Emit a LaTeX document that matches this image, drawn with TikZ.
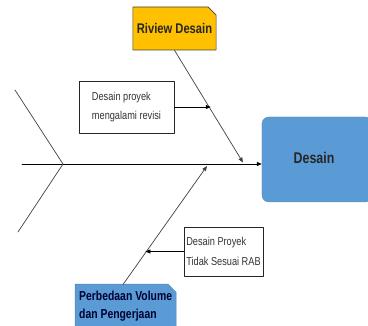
\documentclass[tikz,border=0pt]{standalone}
\usepackage{fontspec}
\setmainfont{Liberation Sans}[FakeStretch=0.8]
\usetikzlibrary{arrows.meta,shapes.misc,calc}
\definecolor{kuning}{HTML}{FFC000}
\definecolor{biru}{HTML}{5B9BD5}
\definecolor{garis}{HTML}{404040}

\begin{document}
\begin{tikzpicture}[x=1pt, y=-1pt, line cap=round, line join=round, >={Triangle[length=5pt,width=4pt]},
  kotak/.style={draw=black!85, fill=white, line width=0.6pt, align=left, inner sep=0pt,
    text=black!80, font=\fontsize{11.5}{19.5}\selectfont},
  sebab/.style={chamfered rectangle, chamfered rectangle corners=north east,
    chamfered rectangle xsep=4pt, chamfered rectangle ysep=4pt, inner sep=0pt, align=left,
    font=\bfseries\fontsize{13}{18}\selectfont},
  tulang/.style={draw=garis, line width=0.7pt}]
  \clip (0,0) rectangle (368,326);
  % kepala ikan
  \node[fill=biru, draw=biru!85!black, line width=0.4pt, rounded corners=7pt,
    minimum width=110pt, minimum height=85pt] (desain) at (317,159.5) {};
  \node[font=\bfseries\fontsize{15.5}{18}\selectfont, text=black!85] (jdl) at (314,158) {Desain};
  % tulang belakang
  \coordinate (ekor) at (63,164);
  \coordinate (awal) at (22,164);
  \draw[line width=0.9pt, ->] (awal) -- (ekor -| desain.west);
  \draw[tulang] (15,90) -- (ekor) -- (18,232);
  % sebab atas
  \node[sebab, fill=kuning, draw=garis, line width=0.6pt, minimum width=81pt, minimum height=43pt,
    text=black!85, font=\bfseries\fontsize{14}{18}\selectfont] (rvw) at (174.5,28.5) {Riview Desain};
  \coordinate (t1) at (243,162.5);
  \draw[tulang, ->] (rvw.south) -- (t1);
  \node[kotak, minimum width=95pt, minimum height=52pt] (rev) at (126.5,107)
    {Desain proyek\\mengalami revisi};
  \coordinate (m1) at ($(rvw.south)!0.53!(t1)$);
  \draw[line width=0.8pt, ->] (rev.east) -- (rev.east -| m1);
  % sebab bawah
  \node[sebab, fill=biru, draw=biru!85!black, line width=0.4pt, anchor=north west,
    minimum width=92pt, minimum height=44pt, text=black!80!blue] (pvb) at (75,284)
    {Perbedaan Volume\\dan Pengerjaan};
  \coordinate (t2) at (207,166);
  \draw[tulang, ->] (123,284.5) -- (t2);
  \node[kotak, minimum width=79pt, minimum height=49pt] (rab) at (223.5,251.5)
    {Desain Proyek\\Tidak Sesuai RAB};
  \coordinate (m2) at ($(123,284.5)!0.267!(t2)$);
  \draw[line width=0.8pt, ->] (rab.west) -- (rab.west -| m2);
\end{tikzpicture}
\end{document}
